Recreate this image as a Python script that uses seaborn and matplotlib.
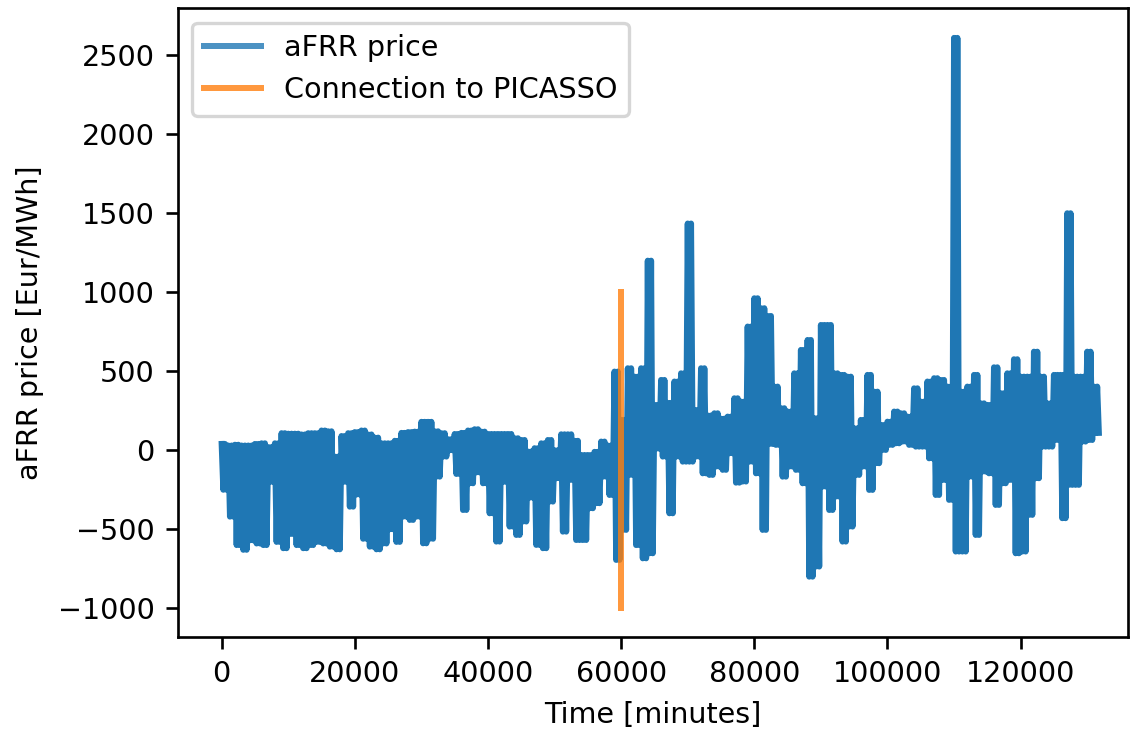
import numpy as np
import pandas as pd
import matplotlib
matplotlib.use("Agg")
import matplotlib.pyplot as plt
import seaborn as sns

# upper / lower envelope of the aFRR price, one pair per 1000-minute block
bin_high = [40, 30, 35, 30, 30, 40, 44, 20, 44, 108,
            105, 105, 100, 108, 108, 125, 120, -40, 90, 108,
            115, 125, 100, 80, 44, 44, 60, 110, 115, 118,
            180, 180, 120, 108, 70, 103, 110, 125, 133, 118,
            103, 103, 103, 103, 76, 65, -8, 13, 44, 65,
            0, 101, 101, 60, -30, -30, -10, 55, 30, 498,
            192, 519, 466, 519, 1200, 287, 445, 300, 435, 487,
            1435, 255, 519, 220, 234, 200, 213, 329, 308, 783,
            962, 899, 850, 403, 266, 245, 487, 635, 698, 203,
            793, 793, 487, 477, 466, 139, 192, 477, 371, 160,
            181, 245, 234, 213, 392, 308, 435, 456, 445, 403,
            2610, 371, 403, 477, 297, 287, 525, 361, 487, 576,
            466, 466, 624, 466, 297, 477, 477, 1500, 466, 466,
            624, 403]
bin_low = [-250, -420, -600, -630, -570, -590, -600, -200, -580, -620,
           -530, -600, -620, -600, -580, -590, -610, -627, -200, -357,
           -280, -560, -610, -627, -590, -500, -580, -420, -441, -420,
           -589, -560, -167, -40, 0, -150, -378, -209, -140, -209,
           -399, -578, -200, -483, -536, -451, -300, -599, -620, -325,
           -177, -515, -188, -568, -568, -367, -335, -167, -283, -694,
           -504, -156, -600, -684, -652, 10, -40, -399, -40, -72,
           -72, -40, -146, -156, -103, -124, -19, -205, -198, -72,
           -146, -504, 40, 34, -167, -103, -124, -209, -800, -736,
           -230, -378, -293, -578, -483, -156, -103, -251, -82, 2,
           34, 44, 55, 34, 23, 23, -51, -283, -188, -314,
           -641, -641, -167, -536, -135, -146, -346, -209, -188, -652,
           -641, -409, -177, 23, 23, 65, -430, -219, -219, 55,
           65, 110]
bin_minutes = 1000

picasso_minute = 60000
picasso_span = [-1000, 1000]

# the raw series swings between high and low many times per block,
# so trace each block as high-low-high-low
n = len(bin_high)
starts = np.arange(n) * bin_minutes
minutes = np.empty(4 * n)
prices = np.empty(4 * n)
for j in range(4):
    minutes[j::4] = starts + j * bin_minutes / 4
    prices[j::4] = bin_high if j % 2 == 0 else bin_low
df = pd.DataFrame({"minute": minutes, "price": prices})

plt.rcParams["font.size"] = 8.6
plt.rcParams["font.family"] = "DejaVu Sans"

fig = plt.figure(figsize=(1135 / 240, 731 / 240), dpi=240)
ax = fig.add_axes([0.1568, 0.129, 0.837, 0.8596])

sns.lineplot(data=df, x="minute", y="price", ax=ax, estimator=None, sort=False,
             color="#1f77b4", linewidth=1.8, label="aFRR price")
sns.lineplot(x=[picasso_minute, picasso_minute], y=picasso_span, ax=ax,
             estimator=None, sort=False, color="#ff7f0e", alpha=0.8,
             linewidth=1.8, label="Connection to PICASSO")

ax.set_xlim(-6560, 136120)
ax.set_ylim(-1180, 2797)
ax.set_xlabel("Time [minutes]")
ax.set_ylabel("aFRR price [Eur/MWh]")

leg = ax.legend(loc="upper left")
for h in leg.legend_handles:
    h.set_alpha(0.8)

fig.savefig("out.png", dpi=240)
